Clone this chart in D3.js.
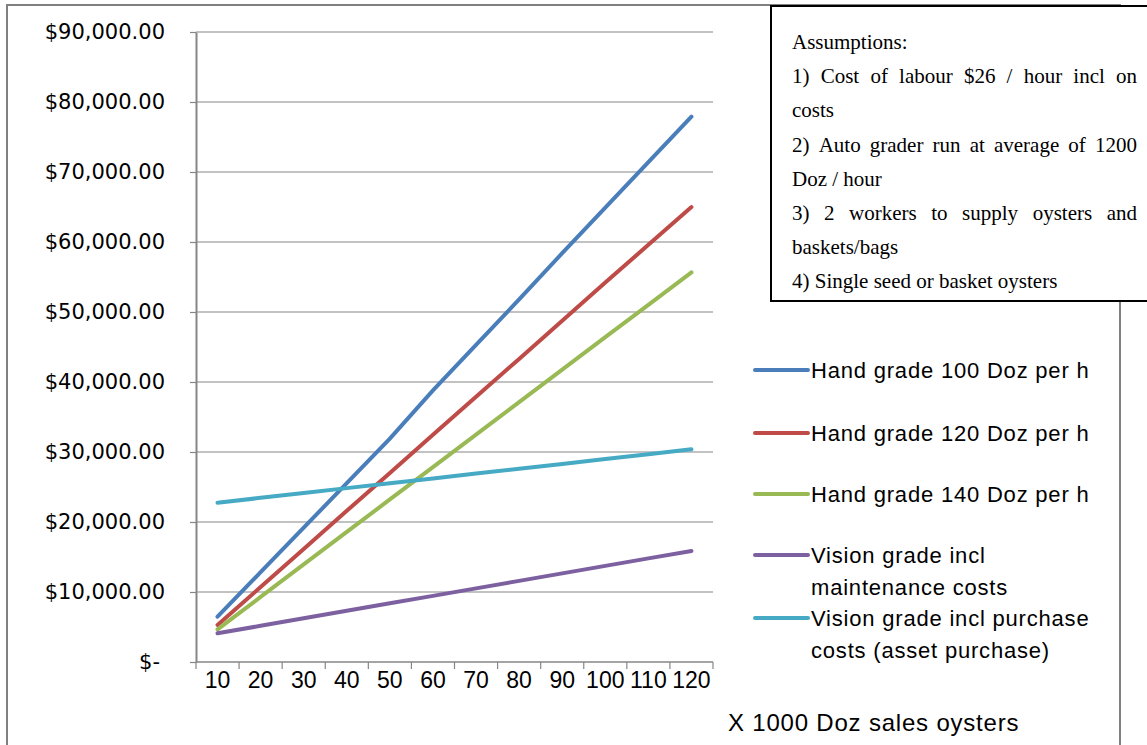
<!DOCTYPE html>
<html>
<head>
<meta charset="utf-8">
<script src="https://cdn.jsdelivr.net/npm/d3@7"></script>
<style>
  body { margin: 0; background: #fff; }
  svg { display: block; }
</style>
</head>
<body>
<div id="chart"></div>
<script>
// values (dollars, per 1000 doz sold)
var categories = [10, 20, 30, 40, 50, 60, 70, 80, 90, 100, 110, 120];
var hand100 = [6470, 12830, 19190, 25550, 31900, 38800, 45300, 51800, 58400, 64900, 71400, 77900];
var hand120 = [5300, 10700, 16150, 21600, 27000, 32450, 37900, 43300, 48750, 54200, 59600, 65000];
var hand140 = [4670, 9300, 13950, 18580, 23220, 27850, 32490, 37120, 41760, 46400, 51030, 55670];
var visionMaint = [4100, 5170, 6240, 7310, 8380, 9450, 10520, 11590, 12660, 13730, 14800, 15870];
var visionPurchase = [22760, 23450, 24150, 24840, 25530, 26230, 26920, 27610, 28300, 29000, 29690, 30380];
var yTicks = [0, 10000, 20000, 30000, 40000, 50000, 60000, 70000, 80000, 90000];

var seriesNames = [
  ["Hand grade 100 Doz per h"],
  ["Hand grade 120 Doz per h"],
  ["Hand grade 140 Doz per h"],
  ["Vision grade incl", "maintenance costs"],
  ["Vision grade incl purchase", "costs (asset purchase)"]
];
var seriesValues = [hand100, hand120, hand140, visionMaint, visionPurchase];
var colors = ["#4a7ebb", "#be4b48", "#98b954", "#7d60a0", "#46aac5"];

var assumptions = [
  ["Assumptions:", false],
  ["1) Cost of labour $26 / hour incl on", true],
  ["costs", false],
  ["2) Auto grader run at average of 1200", true],
  ["Doz / hour", false],
  ["3) 2 workers to supply oysters and", true],
  ["baskets/bags", false],
  ["4) Single seed or basket oysters", false]
];

var width = 1147, height = 745;

var svg = d3.select("#chart").append("svg")
    .attr("width", width)
    .attr("height", height);

// outer frame
svg.append("path")
    .attr("d", "M7,745 V5 H1120 V745")
    .attr("fill", "none")
    .attr("stroke", "#808080")
    .attr("stroke-width", 2);

var x = d3.scaleBand()
    .domain(categories)
    .range([196, 713])
    .padding(0);

var y = d3.scaleLinear()
    .domain([0, 90000])
    .range([662, 32]);

// gridlines
svg.append("g")
    .selectAll("line")
    .data(yTicks.slice(1))
    .enter().append("line")
    .attr("x1", 196)
    .attr("x2", 713)
    .attr("y1", d => y(d))
    .attr("y2", d => y(d))
    .attr("stroke", "#868686")
    .attr("stroke-width", 1.2);

var fmt = d3.format("$,.2f");

var yAxis = svg.append("g")
    .attr("transform", "translate(196,0)")
    .call(d3.axisLeft(y)
        .tickValues(yTicks)
        .tickSizeInner(6)
        .tickSizeOuter(0)
        .tickPadding(25)
        .tickFormat(d => d === 0 ? "$-" : fmt(d)));

yAxis.select(".domain").attr("stroke", "#868686").attr("stroke-width", 2);
yAxis.selectAll(".tick line").attr("stroke", "#868686").attr("stroke-width", 1.2);
yAxis.selectAll(".tick text")
    .attr("font-family", "DejaVu Sans")
    .attr("font-size", "21px")
    .attr("fill", "#000")
    .attr("dx", d => d === 0 ? "-5" : "0");

// x axis: line, boundary ticks, labels
var xAxisG = svg.append("g");
xAxisG.append("line")
    .attr("x1", 196).attr("x2", 713)
    .attr("y1", 662).attr("y2", 662)
    .attr("stroke", "#868686")
    .attr("stroke-width", 1.5);

var edges = categories.map(c => x(c)).concat([x.range()[1]]);
xAxisG.selectAll(".edge")
    .data(edges)
    .enter().append("line")
    .attr("class", "edge")
    .attr("x1", d => d).attr("x2", d => d)
    .attr("y1", 662).attr("y2", 669)
    .attr("stroke", "#868686")
    .attr("stroke-width", 1.2);

xAxisG.selectAll(".lbl")
    .data(categories)
    .enter().append("text")
    .attr("class", "lbl")
    .attr("x", d => x(d) + x.bandwidth() / 2)
    .attr("y", 688)
    .attr("text-anchor", "middle")
    .attr("font-family", "Liberation Sans")
    .attr("font-size", "23px")
    .text(d => d);

svg.append("text")
    .attr("x", 728)
    .attr("y", 731)
    .attr("font-family", "Liberation Sans")
    .attr("font-size", "24px")
    .attr("letter-spacing", "0.8px")
    .text("X 1000 Doz sales oysters");

// series lines
var line = d3.line()
    .x((d, i) => x(categories[i]) + x.bandwidth() / 2)
    .y(d => y(d));

svg.append("g")
    .selectAll("path")
    .data(seriesValues)
    .enter().append("path")
    .attr("d", line)
    .attr("fill", "none")
    .attr("stroke", (d, i) => colors[i])
    .attr("stroke-width", 4)
    .attr("stroke-linecap", "round");

// legend
var legendY = [370, 433, 494, 555, 618];
var legend = svg.append("g")
    .selectAll("g")
    .data(seriesNames)
    .enter().append("g")
    .attr("transform", (d, i) => "translate(0," + legendY[i] + ")");

legend.append("line")
    .attr("x1", 755).attr("x2", 808)
    .attr("y1", 0).attr("y2", 0)
    .attr("stroke", (d, i) => colors[i])
    .attr("stroke-width", 4)
    .attr("stroke-linecap", "round");

legend.each(function(d) {
    var g = d3.select(this);
    d.forEach(function(txt, j) {
        g.append("text")
            .attr("x", 811)
            .attr("y", j * 32)
            .attr("dy", "0.35em")
            .attr("font-family", "Liberation Sans")
            .attr("font-size", "22px")
            .attr("letter-spacing", "0.8px")
            .text(txt);
    });
});

// assumptions box
svg.append("rect")
    .attr("x", 771)
    .attr("y", 6)
    .attr("width", 400)
    .attr("height", 295)
    .attr("fill", "#fff")
    .attr("stroke", "#000")
    .attr("stroke-width", 2);

var boxLeft = 792, boxRight = 1137;
var boxG = svg.append("g")
    .attr("font-family", "Liberation Serif")
    .attr("font-size", "21px");

assumptions.forEach(function(a, i) {
    var baseY = 49 + i * 34.2;
    if (!a[1]) {
        boxG.append("text").attr("x", boxLeft).attr("y", baseY).text(a[0]);
        return;
    }
    // justify: spread the words across the box width
    var words = a[0].split(" ");
    var nodes = words.map(w => boxG.append("text").attr("y", baseY).text(w));
    var widths = nodes.map(n => n.node().getComputedTextLength());
    var gap = (boxRight - boxLeft - d3.sum(widths)) / (words.length - 1);
    var pos = boxLeft;
    nodes.forEach(function(n, k) {
        n.attr("x", pos);
        pos += widths[k] + gap;
    });
});
</script>
</body>
</html>
